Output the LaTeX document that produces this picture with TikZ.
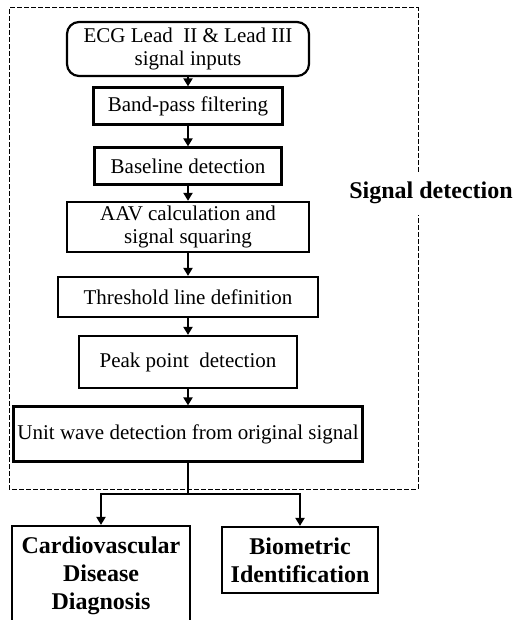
\documentclass[tikz,border=0pt]{standalone}
\usepackage{fontspec}
\setmainfont{Liberation Serif}
\usetikzlibrary{arrows.meta}

\tikzset{
  stage/.style={draw, line width=1.1pt, align=center, inner sep=2pt,
    font=\fontsize{10.5}{11.5}\selectfont},
  outcome/.style={draw, line width=1.1pt, align=center, inner sep=2pt,
    font=\fontsize{12}{14}\selectfont\bfseries},
  flow/.style={line width=1.2pt, -{Triangle[length=4pt,width=4.5pt]}},
}

\begin{document}
\begin{tikzpicture}[x=0.5pt, y=-0.5pt]
  \useasboundingbox (0,0) rectangle (518,620);
  % detection chain
  \node[stage, rounded corners=6pt, minimum width=121pt, minimum height=27pt] (inp) at (188,49)
    {ECG Lead~~II \& Lead III\\signal inputs};
  \node[stage, minimum width=94.5pt, minimum height=18.5pt] (bpf) at (188,106) {Band-pass filtering};
  \node[stage, minimum width=93.5pt, minimum height=18.5pt] (base) at (188,166) {Baseline detection};
  \node[stage, minimum width=121pt, minimum height=22pt] (aav) at (188,227)
    {AAV calculation and\\signal squaring};
  \node[stage, minimum width=130pt, minimum height=20pt] (thr) at (188,297) {Threshold line definition};
  \node[stage, minimum width=109pt, minimum height=26pt] (peak) at (188,362) {Peak point~~detection};
  \node[stage, minimum width=168pt, minimum height=27.5pt] (unit) at (188,434)
    {Unit wave detection from original signal};
  \foreach \a/\b in {inp/bpf, bpf/base, base/aav, aav/thr, thr/peak, peak/unit}
    \draw[flow] (\a) -- (\b);

  % dashed frame and its label
  \draw[line width=0.5pt, dash pattern=on 2.5pt off 1pt]
    (418,172) -- (418,8) -- (9,8) -- (9,489) -- (418,489) -- (418,215);
  \node[font=\fontsize{12}{14}\selectfont\bfseries] (sig) at (431,193) {Signal detection};

  % applications
  \node[outcome, minimum width=89pt, minimum height=50pt] (cvd) at (101,576)
    {Cardiovascular\\Disease\\Diagnosis};
  \node[outcome, minimum width=78pt, minimum height=33pt] (bio) at (300,560)
    {Biometric\\Identification};
  \coordinate (split) at (188,494);
  \draw[line width=1.2pt] (unit) -- (split);
  \draw[flow] (split) -| (cvd);
  \draw[flow] (split) -| (bio);
\end{tikzpicture}
\end{document}
